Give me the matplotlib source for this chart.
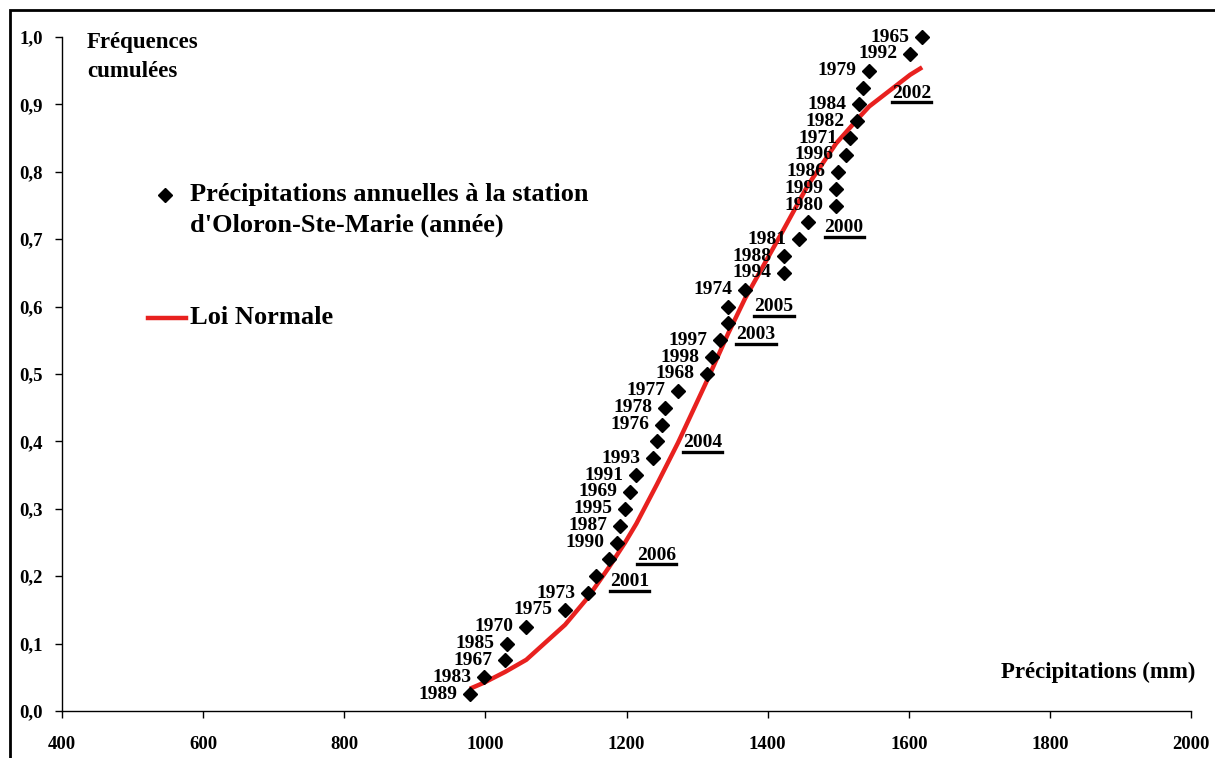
import matplotlib.pyplot as plt
from matplotlib.lines import Line2D
from matplotlib.patches import Rectangle

plt.rcParams['font.family'] = ['Liberation Serif', 'DejaVu Serif']
plt.rcParams['font.weight'] = 'bold'

# Annual precipitation (mm) at Oloron-Ste-Marie, sorted, with cumulative frequency
years = [1989, 1983, 1967, 1985, 1970, 1975, 1973, 2001, 2006, 1990,
         1987, 1995, 1969, 1991, 1993, 2004, 1976, 1978, 1977, 1968,
         1998, 1997, 2003, 2005, 1974, 1994, 1988, 1981, 2000, 1980,
         1999, 1986, 1996, 1971, 1982, 1984, 2002, 1979, 1992, 1965]
precip = [978, 998, 1028, 1030, 1058, 1113, 1145, 1157, 1175, 1187,
          1191, 1198, 1205, 1214, 1238, 1243, 1250, 1255, 1273, 1314,
          1321, 1333, 1344, 1344, 1368, 1423, 1423, 1444, 1457, 1497,
          1497, 1500, 1511, 1517, 1527, 1529, 1535, 1544, 1602, 1619]
freq = [0.025, 0.05, 0.075, 0.1, 0.125, 0.15, 0.175, 0.2, 0.225, 0.25,
        0.275, 0.3, 0.325, 0.35, 0.375, 0.4, 0.425, 0.45, 0.475, 0.5,
        0.525, 0.55, 0.575, 0.6, 0.625, 0.65, 0.675, 0.7, 0.725, 0.75,
        0.775, 0.8, 0.825, 0.85, 0.875, 0.9, 0.925, 0.95, 0.975, 1.0]

# fitted normal law
normal_x = [978, 998, 1028, 1058, 1113, 1145, 1175, 1198, 1214, 1243,
            1273, 1314, 1344, 1368, 1423, 1457, 1497, 1529, 1544, 1602, 1619]
normal_y = [0.033, 0.042, 0.058, 0.076, 0.128, 0.168, 0.213, 0.250, 0.278, 0.336,
            0.398, 0.490, 0.560, 0.612, 0.715, 0.780, 0.842, 0.880, 0.897, 0.944, 0.955]

# label offsets (points) for the underlined 2000s years, placed right of the marker
right_labels = {2001: (10, -4), 2006: (20, 3), 2004: (19, -1), 2003: (6, -8),
                2005: (19, 0), 2000: (12, -4), 2002: (21, -4)}

W, H = 1215, 758
fig = plt.figure(figsize=(W / 100, H / 100), dpi=100)
ax = fig.add_axes([62 / W, (H - 711) / H, 1129 / W, 674 / H])

red = '#e8211f'
ax.plot(normal_x, normal_y, color=red, linewidth=3.2, solid_capstyle='butt', zorder=2)
ax.plot(precip, freq, linestyle='none', marker='D', markersize=7.5,
        color='black', zorder=3, clip_on=False)

underlined = []
for yr, x, y in zip(years, precip, freq):
    if yr in right_labels:
        t = ax.annotate(str(yr), (x, y), xytext=right_labels[yr], textcoords='offset points',
                        ha='left', va='center', fontsize=14, fontweight='bold')
        underlined.append(t)
    else:
        ax.annotate(str(yr), (x, y), xytext=(-9, 0), textcoords='offset points',
                    ha='right', va='center', fontsize=14, fontweight='bold')

ax.set_xlim(400, 2000)
ax.set_ylim(0, 1.0)
ax.set_xticks(range(400, 2001, 200))
ax.set_yticks([i / 10 for i in range(11)])
ax.set_yticklabels([f'{i / 10:.1f}'.replace('.', ',') for i in range(11)])
ax.tick_params(axis='both', labelsize=13.5, direction='out', length=5, width=1)
ax.tick_params(axis='x', pad=13)
ax.tick_params(axis='y', pad=9)
for lab in ax.get_xticklabels() + ax.get_yticklabels():
    lab.set_fontweight('bold')
ax.spines['top'].set_visible(False)
ax.spines['right'].set_visible(False)
ax.spines['left'].set_linewidth(1)
ax.spines['bottom'].set_linewidth(1)

fig.text(87 / W, 1 - 57 / H, 'Fréquences\ncumulées', fontsize=16.5, fontweight='bold',
         ha='left', va='center', linespacing=1.55)
fig.text(1195 / W, 1 - 672 / H, 'Précipitations (mm)', fontsize=16.5, fontweight='bold',
         ha='right', va='center')

# legend drawn by hand
fig.add_artist(Line2D([165 / W], [1 - 195 / H], marker='D', markersize=7.5,
                      color='black', linestyle='none', transform=fig.transFigure))
fig.text(190 / W, 1 - 210 / H, "Précipitations annuelles à la station\nd'Oloron-Ste-Marie (année)",
         fontsize=19, fontweight='bold', ha='left', va='center', linespacing=1.4)
fig.add_artist(Line2D([148 / W, 186 / W], [1 - 318 / H, 1 - 318 / H], color=red,
                      linewidth=3.2, transform=fig.transFigure))
fig.text(190 / W, 1 - 318 / H, 'Loi Normale', fontsize=19, fontweight='bold',
         ha='left', va='center')

# outer chart border
fig.add_artist(Rectangle((10 / W, -0.05), 1.1, 1 - 10 / H + 0.05, fill=False,
                         edgecolor='black', linewidth=2, transform=fig.transFigure))

# underline the 2000s labels
fig.canvas.draw()
renderer = fig.canvas.get_renderer()
for t in underlined:
    bb = t.get_window_extent(renderer)
    yline = bb.y0 - 0.5
    fig.add_artist(Line2D([bb.x0 / W, bb.x1 / W], [yline / H, yline / H],
                          color='black', linewidth=2.4, transform=fig.transFigure))

fig.savefig('out.png', dpi=100)
